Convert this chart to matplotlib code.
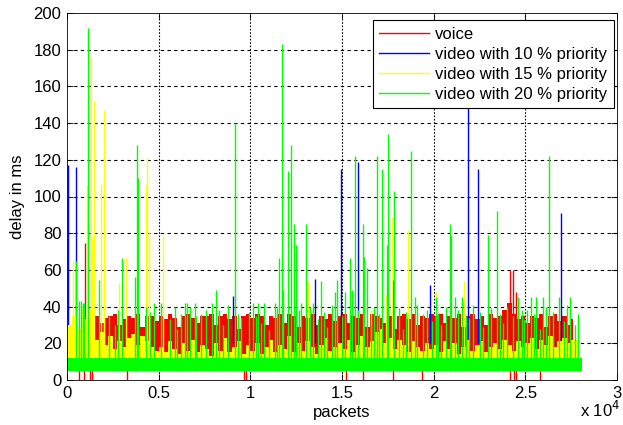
import numpy as np
import matplotlib
matplotlib.use("Agg")
import matplotlib.pyplot as plt
from matplotlib.lines import Line2D

plt.rcParams['font.family'] = ['Liberation Sans', 'DejaVu Sans']
plt.rcParams['font.size'] = 12

# dense part of each trace: top of the band every 250 packets (0 .. 27500)
band_step = 250
voice_top = [
    12, 14, 16, 20, 18, 22,
    35, 31, 34, 35, 36, 30, 33, 35, 34, 36, 29, 35, 35, 32,
    35, 33, 36, 34, 29, 35, 36, 34, 31, 35, 35, 36, 30, 35, 36, 33, 35, 28, 35, 36,
    34, 36, 35, 30, 35, 34, 36, 31, 36, 35, 29, 35, 34, 36, 30, 35, 33, 36, 32, 35,
    36, 31, 35, 34, 36, 29, 36, 35, 34, 31, 35, 28, 35, 36, 33, 36, 30, 35, 34, 36,
    35, 36, 31, 35, 34, 36, 29, 35, 36, 33, 35, 30, 36, 34, 35, 38, 42, 36, 33, 35,
    31, 35, 34, 36, 29, 35, 36, 32, 35, 30, 33,
]
video15_top = [
    30, 35, 28, 40, 33, 38,
    22, 26, 19, 24, 17, 21, 18, 23, 25, 19, 24, 21, 18, 16,
    18, 15, 21, 17, 14, 20, 16, 22, 15, 19, 17, 13, 20, 16, 23, 15, 18, 21, 14, 19,
    16, 20, 14, 18, 22, 15, 19, 17, 24, 15, 20, 16, 21, 18, 14, 19, 23, 16, 18, 20,
    17, 22, 15, 19, 24, 18, 21, 26, 28, 20, 23, 17, 22, 19, 15, 21, 18, 16, 20, 17,
    19, 15, 21, 17, 20, 14, 18, 22, 16, 19, 21, 15, 18, 20, 17, 22, 19, 16, 21, 18,
    20, 23, 17, 22, 19, 24, 18, 21, 23, 20, 22,
]
voice_end = 27600
video15_end = 27900
video20_end = 28100
video20_floor = 5
video20_ceil = 12

# isolated delay peaks (packet number, delay in ms)
voice_peak_pkt = [960, 17760, 24160, 24350, 24470]
voice_peak_val = [74.6, 54.5, 60, 60, 48]
voice_drop_pkt = [650, 920, 1250, 1340, 3280, 9670, 9750, 15210, 16120,
                  17800, 19380, 24170, 24390, 24490, 25790]

video10_pkt = [30, 490, 9060, 13550, 14930, 15850, 19780, 21860, 22400, 26960]
video10_val = [117, 116, 46, 55, 115, 119, 52, 165, 115, 91]

video15_pkt = [340, 1080, 1320, 1390, 1460, 1860, 2000, 2040, 2820, 3230,
               4310, 4390, 4490, 5230, 13120, 16580, 17400, 17700, 18610,
               20100, 21670]
video15_val = [65, 106, 176, 78, 152, 106, 130, 147, 53, 67,
               106, 121, 81, 79, 54, 38, 47, 89, 82,
               48, 54]

video20_pkt = [490, 650, 750, 850, 950, 1120, 1720, 2300, 2600, 3020, 3700,
               3810, 3880, 4760, 5130, 5600, 6000, 6430, 6570, 6700, 6970,
               7300, 7920, 8100, 8500, 9190, 9500, 10140, 10410, 10600, 10770,
               11000, 11320, 11570, 11750, 11790, 12040, 12220, 12400, 12470,
               12790, 13010, 13410, 13700, 13840, 14200, 14600, 14710, 15000,
               15140, 15410, 15520, 15720, 16130, 16200, 16390, 16600, 16890,
               17180, 17430, 17490, 17850, 18300, 18750, 18980, 19400, 19900,
               20100, 20400, 20880, 20920, 21190, 21550, 21900, 22700, 22940,
               23440, 23800, 24580, 24800, 24900, 25300, 25590, 25800, 25990,
               26280, 26820, 27100, 27430, 27700,
               2800, 4300, 4550, 5900, 6200, 7050, 7600, 8300, 8800, 9350,
               9900, 10300, 11450, 12650, 13250, 14000, 14450, 15850, 16750,
               17000, 18100, 18500, 19100, 19650, 20250, 20650, 21350, 21750,
               22150, 22500, 23100, 23600, 24000, 24300, 25100, 25450, 26100,
               26500, 27250, 27850]
video20_val = [65, 43, 43, 42, 42, 192, 54.5, 35, 30, 66.6, 56,
               128, 110, 42, 42, 33, 28, 42, 42, 40, 42,
               36, 42, 49, 30, 140, 34, 42, 42, 31, 42,
               27, 42, 66.6, 183, 49, 114, 128, 85, 73.6,
               42, 85, 42, 33, 54, 29, 48, 54.5, 35,
               48, 66.6, 49, 122, 85, 67, 61, 30, 122,
               115, 73.6, 134, 103, 28, 125, 45, 36, 32,
               45, 30, 85, 79, 45, 45, 34, 29, 79,
               92, 31, 45, 38, 33, 45, 45, 28, 45,
               122, 45, 32, 45, 30,
               38, 40, 37, 40, 36, 35, 38, 38, 41, 36,
               37, 35, 39, 38, 40, 37, 41, 38, 40,
               36, 39, 37, 41, 38, 36, 40, 38, 35,
               41, 37, 39, 36, 40, 35, 38, 36, 40,
               37, 41, 36]

series_names = ['voice', 'video with 10 % priority',
                'video with 15 % priority', 'video with 20 % priority']
series_colors = ['#ff0000', '#0000ff', '#ffff00', '#00ff00']

fig = plt.figure(figsize=(6.23, 4.25), dpi=100)
ax = fig.add_axes([67 / 623, 45 / 425, 550 / 623, 367 / 425])

band_x = np.arange(len(voice_top)) * band_step
red, blue, yellow, green = series_colors
lw = 1.0

# voice
vx = np.append(band_x, voice_end)
vy = np.append(voice_top, voice_top[-1])
ax.fill_between(vx, 8, vy, step='post', color=red, lw=0, zorder=2)
ax.vlines(voice_peak_pkt, 8, voice_peak_val, color=red, lw=lw, zorder=2)
ax.vlines(voice_drop_pkt, 0, 10, color=red, lw=lw, zorder=2)

# video 10 %
ax.vlines(video10_pkt, 20, video10_val, color=blue, lw=lw, zorder=3)

# video 15 %
yx = np.append(band_x, video15_end)
yy = np.append(video15_top, video15_top[-1])
ax.fill_between(yx, 8, yy, step='post', color=yellow, lw=0, zorder=4)
ax.vlines(video15_pkt, 8, video15_val, color=yellow, lw=lw, zorder=4)

# video 20 %
ax.fill_between([0, video20_end], video20_floor, video20_ceil,
                color=green, lw=0, zorder=5)
ax.vlines(video20_pkt, video20_floor, video20_val, color=green, lw=lw, zorder=5)

ax.set_xlim(0, 30000)
ax.set_ylim(0, 200)
ax.set_xticks(np.arange(0, 30001, 5000))
ax.set_xticklabels(['0', '0.5', '1', '1.5', '2', '2.5', '3'])
ax.set_yticks(np.arange(0, 201, 20))
ax.tick_params(direction='in', top=True, right=True, length=4,
               width=0.6, labelsize=12, pad=4)
for s in ax.spines.values():
    s.set_linewidth(0.6)
    s.set_zorder(10)

for y in range(20, 200, 20):
    ax.axhline(y, color='black', lw=0.8, ls=(0, (3, 3)), zorder=1)
for x in range(5000, 30000, 5000):
    ax.axvline(x, color='black', lw=0.8, ls=(0, (1.5, 1.5)), zorder=1)

ax.set_xlabel('packets', fontsize=12, labelpad=3)
ax.set_ylabel('delay in ms', fontsize=12, labelpad=6)
fig.text(580 / 623, 5 / 425, r'x 10$^{4}$', fontsize=12, ha='left', va='bottom')

handles = [Line2D([], [], color=c, lw=1.0) for c in series_colors]
leg = ax.legend(handles, series_names, loc='upper right',
                bbox_to_anchor=(547 / 550, 360 / 367), borderaxespad=0,
                handlelength=3.0, labelspacing=0.3, fancybox=False,
                framealpha=1, edgecolor='black', fontsize=12,
                borderpad=0.4, handletextpad=0.35)
leg.get_frame().set_linewidth(0.8)
leg.set_zorder(20)

fig.savefig('out.png', dpi=100)
